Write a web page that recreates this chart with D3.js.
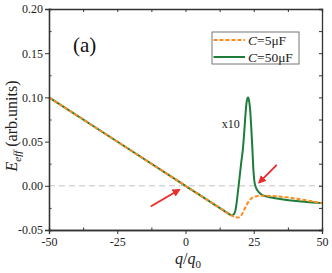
<!DOCTYPE html>
<html>
<head>
<meta charset="utf-8">
<script src="https://cdn.jsdelivr.net/npm/d3@7"></script>
<style>
  body { margin: 0; background: #fff; }
  svg text { font-family: "Liberation Serif", "Times New Roman", Times, "DejaVu Serif", serif !important; }
</style>
</head>
<body>
<svg id="chart" width="332" height="273"></svg>
<script>
// values
const qGreen = [-50, 0, 15, 16.3, 17.0, 17.6, 18.2, 18.7, 19.3, 19.9, 20.4, 21.0, 21.5, 22.0, 22.4, 22.9, 23.3, 23.7, 24.1, 24.5, 24.8, 25.2, 25.8, 26.7, 27.7, 29.0, 50];
const eGreen = [0.1, 0, -0.030, -0.0325, -0.0334, -0.0325, -0.029, -0.020, -0.004, 0.012, 0.026, 0.041, 0.060, 0.082, 0.095, 0.100, 0.096, 0.085, 0.065, 0.042, 0.022, 0.006, -0.002, -0.0065, -0.0095, -0.0115, -0.0196];

const qOrange = [-50, 0, 15, 16.5, 17.5, 18.5, 19.4, 20.2, 21.2, 22.4, 23.3, 24.2, 25.4, 26.7, 28.2, 50];
const eOrange = [0.1, 0, -0.030, -0.033, -0.0345, -0.0356, -0.0358, -0.0345, -0.029, -0.0215, -0.017, -0.0140, -0.0122, -0.0114, -0.0113, -0.0196];

const xTicks = [-50, -25, 0, 25, 50];
const xMinor = [-37.5, -12.5, 12.5, 37.5];
const yTicks = [-0.05, 0, 0.05, 0.10, 0.15, 0.20];
const yMinor = [-0.025, 0.025, 0.075, 0.125, 0.175];

const seriesNames = ["C=5μF", "C=50μF"];

// arrows: [q tail, E tail, q head, E head]
const arrows = [
  [-12.75, -0.0234, -2.3, -0.0045],
  [33.4, 0.0238, 27.0, 0.0037]
];

const svg = d3.select("#chart");
const mLeft = 49, mRight = 322, mTop = 9, mBottom = 230;

const x = d3.scaleLinear().domain([-50, 50]).range([mLeft, mRight]);
const y = d3.scaleLinear().domain([-0.05, 0.20]).range([mBottom, mTop]);

const green = "#1e7d3a";
const orange = "#ff8a1c";
const red = "#ec2a2a";
const axisColor = "#333";
const fmtY = (d) => d3.format(".2f")(d).replace("−", "-");
const fmtX = (d) => d3.format("d")(d).replace("−", "-");

// zero reference line
svg.append("line")
  .attr("x1", x(-50)).attr("x2", x(50))
  .attr("y1", y(0)).attr("y2", y(0))
  .attr("stroke", "#c4c4c4")
  .attr("stroke-width", 1)
  .attr("stroke-dasharray", "6,4");

const line = d3.line()
  .x((d) => x(d[0]))
  .y((d) => y(d[1]))
  .curve(d3.curveMonotoneX);

svg.append("path")
  .datum(qGreen.map((q, i) => [q, eGreen[i]]))
  .attr("d", line)
  .attr("fill", "none")
  .attr("stroke", green)
  .attr("stroke-width", 2);

svg.append("path")
  .datum(qOrange.map((q, i) => [q, eOrange[i]]))
  .attr("d", line)
  .attr("fill", "none")
  .attr("stroke", orange)
  .attr("stroke-width", 2)
  .attr("stroke-dasharray", "4,2");

// axes
function styleAxis(g) {
  g.attr("font-family", null);
  g.selectAll(".domain").attr("stroke", axisColor).attr("stroke-width", 1.3);
  g.selectAll(".tick line").attr("stroke", axisColor).attr("stroke-width", 1);
  g.selectAll(".tick text")
    .attr("fill", "#222")
    .style("font-size", "12px");
}

svg.append("g")
  .attr("transform", `translate(0,${mBottom})`)
  .call(d3.axisBottom(x).tickValues(xTicks).tickSize(4).tickPadding(3).tickFormat(fmtX))
  .call(styleAxis);
svg.append("g")
  .attr("transform", `translate(0,${mBottom})`)
  .call(d3.axisBottom(x).tickValues(xMinor).tickSize(-2.5).tickFormat(""))
  .call(styleAxis);

svg.append("g")
  .attr("transform", `translate(${mLeft},0)`)
  .call(d3.axisLeft(y).tickValues(yTicks).tickSize(4).tickPadding(2).tickFormat(fmtY))
  .call(styleAxis);
svg.append("g")
  .attr("transform", `translate(${mLeft},0)`)
  .call(d3.axisLeft(y).tickValues(yMinor).tickSize(-2.5).tickFormat(""))
  .call(styleAxis);

svg.append("g")
  .attr("transform", `translate(0,${mTop})`)
  .call(d3.axisTop(x).tickValues(xTicks.concat(xMinor)).tickSize(-3).tickFormat(""))
  .call(styleAxis);
svg.append("g")
  .attr("transform", `translate(${mRight},0)`)
  .call(d3.axisRight(y).tickValues(yTicks.concat(yMinor)).tickSize(-3).tickFormat(""))
  .call(styleAxis);

// arrows
const defs = svg.append("defs");
defs.append("marker")
  .attr("id", "head")
  .attr("viewBox", "0 0 10 10")
  .attr("refX", 8).attr("refY", 5)
  .attr("markerWidth", 4.5).attr("markerHeight", 4.5)
  .attr("orient", "auto")
  .append("path")
  .attr("d", "M0,0 L10,5 L0,10 z")
  .attr("fill", red);

svg.selectAll(".arrow")
  .data(arrows)
  .join("line")
  .attr("class", "arrow")
  .attr("x1", (d) => x(d[0])).attr("y1", (d) => y(d[1]))
  .attr("x2", (d) => x(d[2])).attr("y2", (d) => y(d[3]))
  .attr("stroke", red)
  .attr("stroke-width", 1.8)
  .attr("marker-end", "url(#head)");

// annotations
svg.append("text")
  .attr("x", 73).attr("y", 52)
  .style("font-size", "21px")
  .attr("fill", "#111")
  .text("(a)");

svg.append("text")
  .attr("x", x(13.3)).attr("y", y(0.065))
  .style("font-size", "12px")
  .attr("fill", "#222")
  .text("x10");

// legend
const lg = svg.append("g").attr("transform", "translate(212,32)");
lg.append("rect")
  .attr("width", 87).attr("height", 32)
  .attr("fill", "#fff")
  .attr("stroke", "#777")
  .attr("stroke-width", 1);

const legendItems = [
  { name: seriesNames[0], color: orange, dash: "4,2" },
  { name: seriesNames[1], color: green, dash: null }
];
legendItems.forEach((d, i) => {
  const yy = 8 + i * 17;
  lg.append("line")
    .attr("x1", 1.5).attr("x2", 33)
    .attr("y1", yy).attr("y2", yy)
    .attr("stroke", d.color)
    .attr("stroke-width", 2)
    .attr("stroke-dasharray", d.dash);
  const t = lg.append("text")
    .attr("x", 36).attr("y", yy + 4.5)
    .style("font-size", "13.5px")
    .attr("fill", "#222");
  t.append("tspan").style("font-style", "italic").text(d.name[0]);
  t.append("tspan").text(d.name.slice(1));
});

// axis titles
const yl = svg.append("text")
  .attr("transform", "translate(17,126) rotate(-90)")
  .attr("text-anchor", "middle")
  .style("font-size", "16px")
  .attr("fill", "#222");
yl.append("tspan").style("font-style", "italic").text("E");
yl.append("tspan").style("font-style", "italic").style("font-size", "11px").attr("dy", 4).text("eff");
yl.append("tspan").attr("dy", -4).text(" (arb.units)");

const xl = svg.append("text")
  .attr("x", 188).attr("y", 264)
  .attr("text-anchor", "middle")
  .style("font-size", "16px")
  .attr("fill", "#222");
xl.append("tspan").style("font-style", "italic").text("q");
xl.append("tspan").text("/");
xl.append("tspan").style("font-style", "italic").text("q");
xl.append("tspan").style("font-size", "11px").attr("dy", 4).text("0");
</script>
</body>
</html>
